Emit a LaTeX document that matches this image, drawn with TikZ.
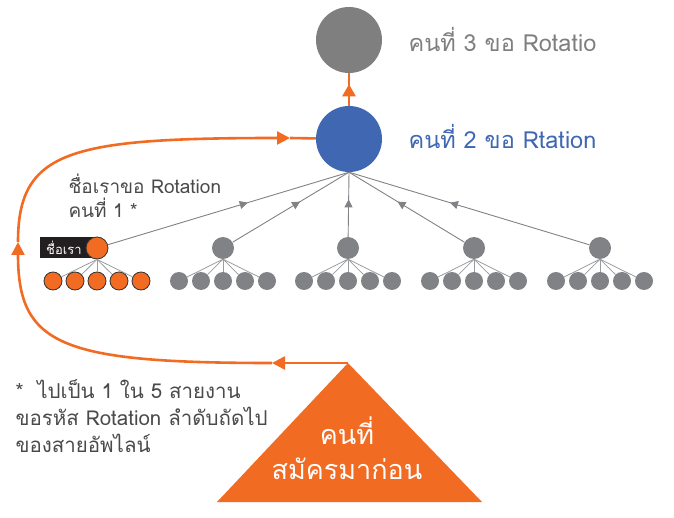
\documentclass[tikz,border=0pt]{standalone}
\usepackage{fontspec}
\setmainfont[Script=Thai]{Loma}
\usetikzlibrary{arrows.meta,decorations.markings}

\definecolor{rotorange}{HTML}{F26B22}
\definecolor{rotblue}{HTML}{4068B2}
\definecolor{rotgray}{HTML}{808285}
\definecolor{topgray}{HTML}{7F7F7F}
\definecolor{darktext}{HTML}{4A4A4A}
\definecolor{boxblack}{HTML}{231F20}

\tikzset{
  member/.style={circle,fill=rotgray,inner sep=0pt,minimum size=#1},
  ours/.style={circle,fill=rotorange,draw=black!80,line width=0.8pt,inner sep=0pt,minimum size=#1},
  twig/.style={draw=rotgray!80,line width=0.8pt},
  uplink/.style={draw=rotgray,line width=0.9pt,postaction={decorate},
    decoration={markings,mark=at position 0.58 with {\arrow{Triangle[length=8pt,width=8pt]}}}},
  backline/.style={draw=rotorange,line width=2.6pt,-{Triangle[length=13pt,width=13pt]}},
}

\begin{document}
\begin{tikzpicture}[x=1pt,y=-1pt]
    \useasboundingbox (0,0) rectangle (674,518);

    \node[circle,fill=topgray,minimum size=66pt,inner sep=0pt] (third) at (349,40) {};
    \node[circle,fill=rotblue,minimum size=66pt,inner sep=0pt] (second) at (349,139) {};

    \draw[rotorange,line width=2.6pt,postaction={decorate},
      decoration={markings,mark=at position 0.66 with {\arrow[rotorange]{Triangle[length=12pt,width=13pt]}}}]
      (second) -- (third);

    \node[anchor=west,text=topgray,font=\fontsize{23.5}{23.5}\selectfont] (thirdlabel) at (405,39) {คนที่ 3 ขอ Rotatio};
    \node[anchor=west,text=rotblue,font=\fontsize{23.5}{23.5}\selectfont] (secondlabel) at (405,136) {คนที่ 2 ขอ Rtation};

    \node[anchor=west,align=left,text=darktext,font=\fontsize{19}{24}\selectfont] (ourlabel) at (65,196) {ชื่อเราขอ Rotation\\คนที่ 1 *};

    \node[fill=boxblack,text=white,anchor=west,minimum height=21pt,inner xsep=6pt,text width=45pt,align=left,
      font=\fontsize{13}{13}\selectfont] (ourbox) at (40,248) {ชื่อเรา};

    \node[ours=22pt] (m1) at (97,248) {};
    \foreach \j/\dx in {1/-44,2/-22,3/0,4/22,5/44} {
      \node[ours=18pt] (m1-\j) at (97+\dx,281) {};
      \draw[twig] (m1.south) -- (m1-\j);
    }

    \foreach \i/\x in {2/223,3/348,4/474,5/600} {
      \node[member=22pt] (m\i) at (\x,248) {};
      \foreach \j/\dx in {1/-44,2/-22,3/0,4/22,5/44} {
        \node[member=18pt] (m\i-\j) at (\x+\dx,281) {};
        \draw[twig] (m\i.south) -- (m\i-\j);
      }
    }

    \foreach \i in {1,...,5}
      \draw[uplink] (m\i) -- (second.south);

    \coordinate (apex) at (348,363);
    \fill[rotorange] (apex) -- (482,502) -- (217,502) -- cycle;
    \node[text=white,font=\fontsize{27}{27}\selectfont] (trione) at (347,431) {คนที่};
    \node[text=white,font=\fontsize{27}{27}\selectfont] (tritwo) at (347,469) {สมัครมาก่อน};

    \coordinate (loopa) at (272,363);
    \coordinate (loopb) at (18,242);
    \coordinate (loopc) at (290,138);
    \draw[backline] (apex) -- (loopa);
    \draw[backline] (loopa) .. controls (60,363) and (18,345) .. (loopb);
    \draw[backline] (loopb) .. controls (18,150) and (70,138) .. (loopc);
    \draw[rotorange,line width=2.6pt] (loopc) -- (second);

    \node[anchor=north west,align=left,text=darktext,font=\fontsize{20.5}{27}\selectfont] (footnote) at (12,376)
      {*~~ไปเป็น 1 ใน 5 สายงาน\\ขอรหัส Rotation ลำดับถัดไป\\ของสายอัพไลน์};
  \end{tikzpicture}
\end{document}
